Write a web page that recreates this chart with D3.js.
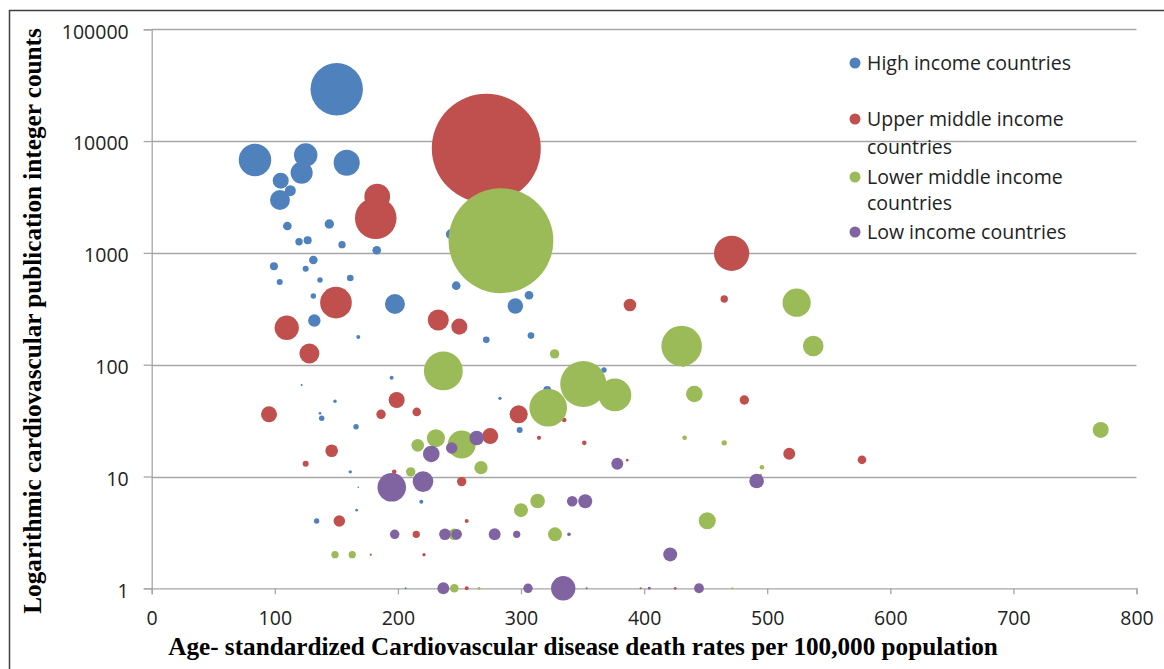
<!DOCTYPE html>
<head>
    <meta charset="utf-8">
    <title>CVD death rates vs publications</title>
    <script src="https://d3js.org/d3.v7.min.js"></script>
    <style>
        body { margin: 0; background: #fff; }
        svg { display: block; }
    </style>
</head>
<body>
    <svg width="1164" height="669"></svg>
    <script>
        // [death rate, publication count, population (millions)]
        var highIncome = [
            [150.3, 29040, 310], [83.9, 6780, 119], [125.1, 7510, 62], [121.8, 5215, 55],
            [158.4, 6410, 77], [104.8, 4425, 29], [112.6, 3600, 13.7], [104.2, 2970, 45],
            [110.2, 1740, 8.4], [144.3, 1815, 10], [119.7, 1260, 6.2], [126.7, 1300, 7.3],
            [154.6, 1185, 6], [182.8, 1055, 8.4], [99.3, 760, 7.3], [131.3, 865, 8.4],
            [125.1, 722, 4.1], [104, 549, 4.1], [136.7, 572, 3.3], [161.3, 596, 5],
            [131.3, 411, 3.3], [197.6, 349, 45], [132.1, 248, 17.5], [243, 1467, 11],
            [247.4, 509, 8.4], [295.4, 335, 27], [306.5, 418, 8.4], [167.8, 177, 1.8],
            [271.8, 167, 5], [308.1, 182, 5], [194.9, 76.5, 1.8], [121.8, 65.8, 0.5],
            [148.9, 47.1, 1.3], [136.7, 36.7, 0.8], [138.1, 33.2, 3.3], [166, 27.9, 3.3],
            [282.9, 50, 1.3], [321.3, 59.4, 7], [367.4, 89.7, 3.3], [298.9, 26.1, 4],
            [161.3, 11, 1.3], [219, 5.95, 1.8], [166.5, 5.0, 0.8], [167.8, 8, 0.3],
            [134, 4.0, 3.3], [206.3, 1, 0.5]
        ];
        var upperMiddle = [
            [271.8, 8620, 1340], [183.2, 3185, 75], [182, 2040, 195], [149.7, 359, 113],
            [471.1, 992, 140], [465.1, 387, 6.2], [388.5, 342, 18], [232.8, 251, 50],
            [249.9, 219, 29], [128.1, 126, 45], [109.7, 214, 67], [431.8, 99, 1],
            [481.4, 48.3, 10], [517.9, 16, 16], [577, 14.1, 8.4], [95.3, 36, 29],
            [186.3, 36, 10], [199, 48.3, 29], [215.3, 37.8, 8.4], [298.1, 36, 37],
            [335.1, 32, 2.4], [314.6, 22.2, 2], [351.4, 20, 2.4], [275, 23, 29],
            [146.2, 17, 18], [125.1, 13, 4], [197, 11, 2.4], [386.3, 14, 0.8],
            [251.8, 9.0, 10], [152.4, 4, 15], [255.9, 4, 1.8], [214.9, 3.04, 6],
            [177.9, 2, 0.5], [221.2, 2, 1.3], [255.9, 1, 1.8], [353.3, 1, 0.5],
            [397.2, 1, 0.5], [425.3, 1, 0.8]
        ];
        var lowerMiddle = [
            [283.7, 1285, 1240], [523.9, 359, 90], [430.5, 147, 185], [537.4, 147, 48],
            [440.8, 54.7, 31], [770.9, 26.1, 29], [432.9, 22.2, 2.4], [465.1, 20, 3.3],
            [495.7, 12.1, 2.4], [494.8, 10.3, 0.8], [451.3, 4.02, 33], [471.6, 1, 0.5],
            [327.3, 125, 10], [236.9, 87.9, 170], [322.1, 41.2, 160], [350.6, 67.2, 240],
            [376.3, 53.6, 121], [251.8, 19.3, 89], [230.9, 22, 37], [216.1, 19, 18],
            [210.4, 11, 10], [267.5, 12, 20], [300, 5.0, 22], [313.5, 6.04, 24],
            [245.8, 3.04, 15], [327.6, 3.04, 22], [148.9, 2, 6], [162.9, 2, 6],
            [245.8, 1, 8.4], [266, 1, 0.8]
        ];
        var lowIncome = [
            [491.4, 9.12, 24], [421.2, 2.01, 22], [444.6, 1, 11], [404.2, 1, 1],
            [264, 22.1, 24], [243.7, 18, 15], [227.1, 15.9, 31], [378.2, 13, 16],
            [195, 8.0, 92], [220.4, 9.0, 48], [341.6, 6.0, 12.7], [352.2, 6.0, 22],
            [197.4, 3.04, 10], [238.2, 3.04, 15], [247.7, 3.04, 13], [278.6, 3.04, 16],
            [296.5, 3.04, 6], [339, 3.04, 1.5], [236.9, 1, 16], [305.7, 1, 10],
            [334.3, 1, 67]
        ];

        var seriesNames = ["High income countries", "Upper middle income countries",
            "Lower middle income countries", "Low income countries"];
        var seriesColors = ["#4F81BD", "#C0504D", "#9BBB59", "#8064A2"];
        var xTicks = [0, 100, 200, 300, 400, 500, 600, 700, 800];
        var yTicks = [1, 10, 100, 1000, 10000, 100000];

        var svg = d3.select("svg");

        var x = d3.scaleLinear().domain([0, 800]).range([151.7, 1136.5]);
        var y = d3.scaleLog().domain([1, 100000]).range([588.3, 29.3]);
        var r = d3.scaleSqrt().domain([0, 1340]).range([0, 54.5]);

        var sansFont = "'Open Sans', 'Noto Sans', sans-serif";
        var serifFont = "'Liberation Serif', 'Times New Roman', serif";

        // outer chart border (top and left visible)
        svg.append("rect")
            .attr("x", 9.5).attr("y", 10.5)
            .attr("width", 1300).attr("height", 800)
            .attr("fill", "none")
            .attr("stroke", "#404040")
            .attr("stroke-width", 1.5);

        var gridColor = "#a6a6a6";

        // horizontal gridlines
        svg.append("g").selectAll("line")
            .data(yTicks.slice(1))
            .enter().append("line")
            .attr("x1", x(0)).attr("x2", x(800))
            .attr("y1", function(d) { return Math.round(y(d)) + 0.5; })
            .attr("y2", function(d) { return Math.round(y(d)) + 0.5; })
            .attr("stroke", gridColor)
            .attr("stroke-width", 1.3);

        // y axis
        var yAxis = svg.append("g")
            .attr("transform", "translate(" + x(0) + ",0)")
            .call(d3.axisLeft(y).tickValues(yTicks).tickFormat(d3.format("d")).tickSize(8).tickPadding(15));

        // x axis
        var xAxis = svg.append("g")
            .attr("transform", "translate(0," + y(1) + ")")
            .call(d3.axisBottom(x).tickValues(xTicks).tickSize(6).tickPadding(17));

        [xAxis, yAxis].forEach(function(ax) {
            ax.select(".domain").attr("stroke", gridColor).attr("stroke-width", 1.3);
            ax.selectAll(".tick line").attr("stroke", gridColor).attr("stroke-width", 1.3);
            ax.selectAll("text")
                .attr("fill", "#222")
                .style("font-family", sansFont)
                .style("font-size", "19.5px");
        });
        yAxis.selectAll("text").attr("dy", "0.45em");

        // bubbles
        var allSeries = [highIncome, upperMiddle, lowerMiddle, lowIncome];
        allSeries.forEach(function(data, i) {
            var sorted = data.slice().sort(function(a, b) { return b[2] - a[2]; });
            svg.append("g")
                .selectAll("circle")
                .data(sorted)
                .enter().append("circle")
                .attr("cx", function(d) { return x(d[0]); })
                .attr("cy", function(d) { return y(d[1]); })
                .attr("r", function(d) { return r(d[2]); })
                .attr("fill", seriesColors[i]);
        });

        // legend
        var legendRows = [[63], [119, 147], [177, 203], [232]];
        var legend = svg.append("g").attr("class", "legend");
        seriesNames.forEach(function(name, i) {
            var rows = legendRows[i];
            legend.append("circle")
                .attr("cx", 855).attr("cy", rows[0])
                .attr("r", 5.5)
                .attr("fill", seriesColors[i]);
            var lines = rows.length > 1
                ? [name.replace(/ countries$/, ""), "countries"]
                : [name];
            lines.forEach(function(line, j) {
                legend.append("text")
                    .attr("x", 867).attr("y", rows[j] + 7)
                    .attr("fill", "#222")
                    .style("font-family", sansFont)
                    .style("font-size", "19.5px")
                    .text(line);
            });
        });

        // axis titles
        svg.append("text")
            .attr("x", 583).attr("y", 655)
            .attr("text-anchor", "middle")
            .style("font-family", serifFont)
            .style("font-weight", "bold")
            .style("font-size", "25.2px")
            .text("Age- standardized Cardiovascular disease death rates per 100,000 population");

        svg.append("text")
            .attr("transform", "translate(41,321) rotate(-90)")
            .attr("text-anchor", "middle")
            .style("font-family", serifFont)
            .style("font-weight", "bold")
            .style("font-size", "25.2px")
            .text("Logarithmic cardiovascular publication integer counts");
    </script>
</body>
